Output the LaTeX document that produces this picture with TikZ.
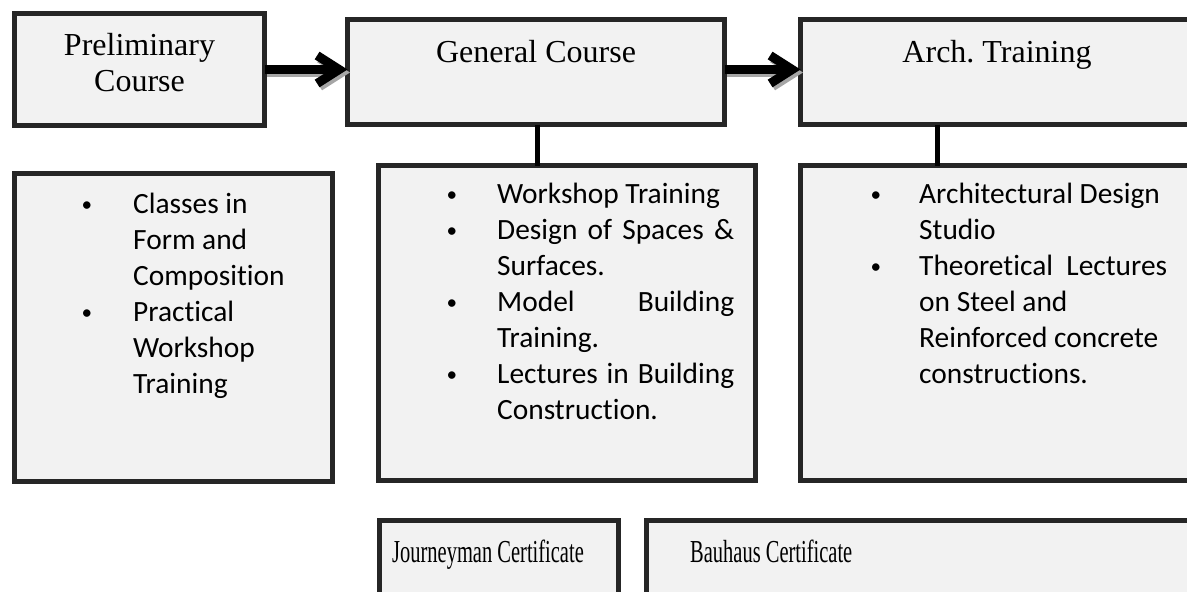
\documentclass[tikz,border=0pt]{standalone}
\usepackage{fontspec}
\usepackage{graphicx}
\setmainfont{Liberation Serif}
\newfontfamily\calib[Ligatures=NoCommon]{Carlito}
\usetikzlibrary{arrows.meta}
\definecolor{boxfill}{HTML}{F2F2F2}
\definecolor{boxline}{HTML}{262626}
\newcommand\lbul[1]{\leavevmode\llap{\raisebox{1.5pt}{\scalebox{0.72}{\textbullet}}\hspace{#1}}}
\tikzset{
  box/.style={draw=boxline, fill=boxfill, line width=5pt, inner sep=0pt, outer sep=0pt},
  title/.style={font=\fontsize{32}{36}\selectfont, inner sep=0pt, anchor=base},
  cert/.style={font=\fontsize{32}{36}\selectfont, inner sep=0pt, anchor=base west},
  listtxt/.style={font=\calib\fontsize{29.4}{36}\selectfont, inner sep=0pt, anchor=base west},
  flow/.style={line width=9pt, draw=black, -{Straight Barb[length=22pt,width=28pt]}},
  flowshadow/.style={flow, draw=black!35, transform canvas={shift={(2.5pt,-3pt)}}},
  link/.style={line width=5pt, draw=black}
}
\begin{document}
\begin{tikzpicture}[x=1pt,y=-1pt]
\useasboundingbox (0,0) rectangle (1187,592);
\clip (0,0) rectangle (1187,592);
% top row
\node[box, minimum width=250pt, minimum height=112pt] (p) at (139.5,69.5) {};
\node[box, minimum width=377pt, minimum height=105pt] (g) at (536,72) {};
\node[box, minimum width=393pt, minimum height=105pt] (a) at (997,72) {};
\node[title] (pt) at (139.5,55) {\begin{tabular}[t]{@{}c@{}}Preliminary\\Course\end{tabular}};
\node[title] (gt) at (536,62) {General Course};
\node[title] (at) at (997,62) {Arch.\ Training};
% list boxes
\node[box, minimum width=318pt, minimum height=308pt] (p2) at (173.5,327.5) {};
\node[box, minimum width=377pt, minimum height=315pt] (g2) at (567,323) {};
\node[box, minimum width=393pt, minimum height=315pt] (a2) at (997,323) {};
\node[listtxt] (pl) at (133,213) {\parbox[t]{200pt}{\raggedright
\lbul{41pt}Classes in\\
Form and\\
Composition\\
\lbul{41pt}Practical\\
Workshop\\
Training}};
\node[listtxt] (gl2) at (497,203) {\parbox[t]{237pt}{\raggedright
\lbul{40pt}Workshop Training\\
\lbul{40pt}\makebox[237pt][s]{Design of Spaces \&}\\
Surfaces.\\
\lbul{40pt}\makebox[237pt][s]{Model Building}\\
Training.\\
\lbul{40pt}\makebox[237pt][s]{Lectures in Building}\\
Construction.}};
\node[listtxt] (al2) at (919,203) {\parbox[t]{260pt}{\raggedright
\lbul{38pt}Architectural Design\\
Studio\\
\lbul{38pt}\makebox[248pt][s]{Theoretical Lectures}\\
on Steel and\\
Reinforced concrete\\
constructions.}};
% certificates
\node[box, minimum width=239pt, minimum height=99pt] (j) at (499,570) {};
\node[box, minimum width=553pt, minimum height=99pt] (b) at (923,570) {};
\node[cert] (jt) at (392,562) {\scalebox{0.64}[1]{Journeyman Certificate}};
\node[cert] (bt) at (690,562) {\scalebox{0.64}[1]{Bauhaus Certificate}};
% connectors
\coordinate (gx) at (537,0);
\coordinate (ax) at (937,0);
\draw[link] (g.south -| gx) -- (g2.north -| gx);
\draw[link] (a.south -| ax) -- (a2.north -| ax);
\draw[flowshadow] (p.east) -- (p.east -| g.west);
\draw[flow] (p.east) -- (p.east -| g.west);
\draw[flowshadow] (g.east |- p.east) -- (a.west |- p.east);
\draw[flow] (g.east |- p.east) -- (a.west |- p.east);
\end{tikzpicture}
\end{document}
